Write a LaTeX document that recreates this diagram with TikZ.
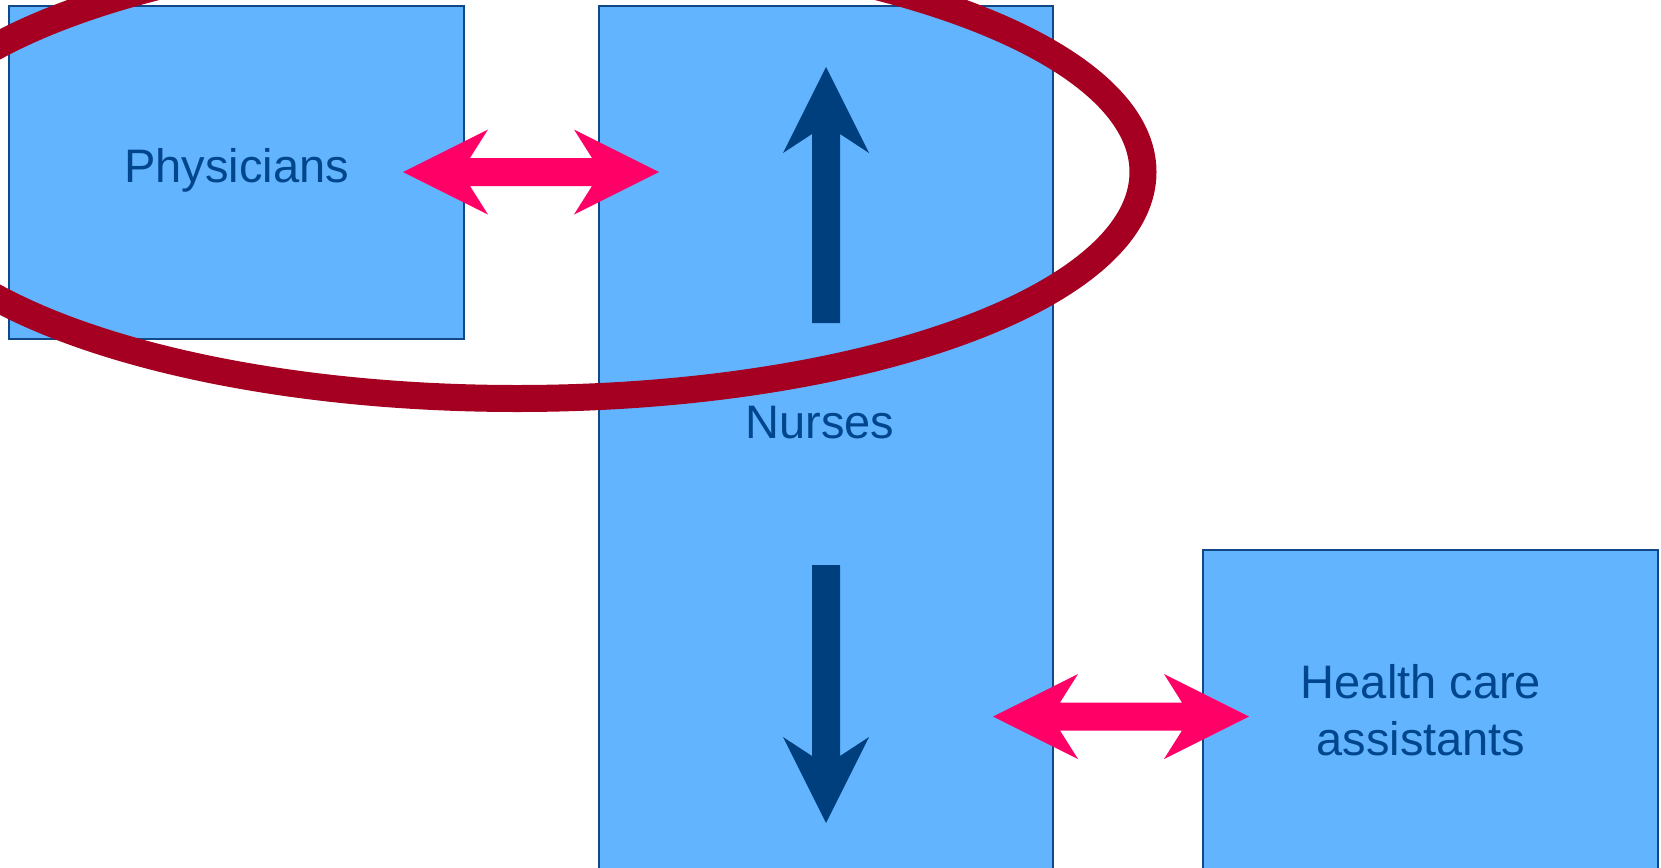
\documentclass[tikz,border=0pt]{standalone}
\usepackage{fontspec}
\setmainfont{Liberation Sans}
\usetikzlibrary{fit}
\definecolor{boxfill}{RGB}{99,180,255}
\definecolor{boxline}{RGB}{16,72,136}
\definecolor{textblue}{RGB}{0,70,140}
\definecolor{navy}{RGB}{0,63,125}
\definecolor{hotpink}{RGB}{255,0,102}
\definecolor{ringred}{RGB}{165,0,33}
\begin{document}
\begin{tikzpicture}[x=0.5pt,y=-0.5pt,
  box/.style={draw=boxline,fill=boxfill,line width=0.8pt,inner sep=0pt},
  lbl/.style={text=textblue,font=\fontsize{23.5}{28.5}\selectfont,inner sep=0pt},
  pics/twoway/.style={code={
    \fill[hotpink] (-128,0) -- (-43,-42.5) -- (-61,-14) -- (61,-14) -- (43,-42.5)
      -- (128,0) -- (43,42.5) -- (61,14) -- (-61,14) -- (-43,42.5) -- cycle;}},
  pics/oneway/.style={code={
    \fill[navy] (0,0) -- (43,86) -- (14,67) -- (14,#1) -- (-14,#1)
      -- (-14,67) -- (-43,86) -- cycle;}},
]
\useasboundingbox (0,0) rectangle (1661,868);
\clip (0,0) rectangle (1661,868);

% the three staff groups
\node[box, fit={(9,6) (464,339)}] (phys) {};
\node[box, fit={(599,6) (1053,890)}] (nurses) {};
\node[box, fit={(1203,550) (1658,890)}] (hca) {};

% ring around physicians and upper nurses
\draw[ringred, line width=13.5pt] (517,172) ellipse [x radius=626, y radius=226.5];

% two-way links between groups
\pic at (531,172) {twoway};
\pic at (1121,716.5) {twoway};

% up and down arrows inside the nurses box
\pic at (826,67) {oneway=256};
\pic[rotate=180] at (826,823) {oneway=258};

% group names (base of a two-line node is its last line)
\node[lbl, anchor=base] (tphys) at (phys.center |- 0,182) {Physicians};
\node[lbl, anchor=base] (tnur) at (820,438) {Nurses};
\node[lbl, anchor=base, align=center] (thca) at (1421,755) {Health care\\assistants};
\end{tikzpicture}
\end{document}
